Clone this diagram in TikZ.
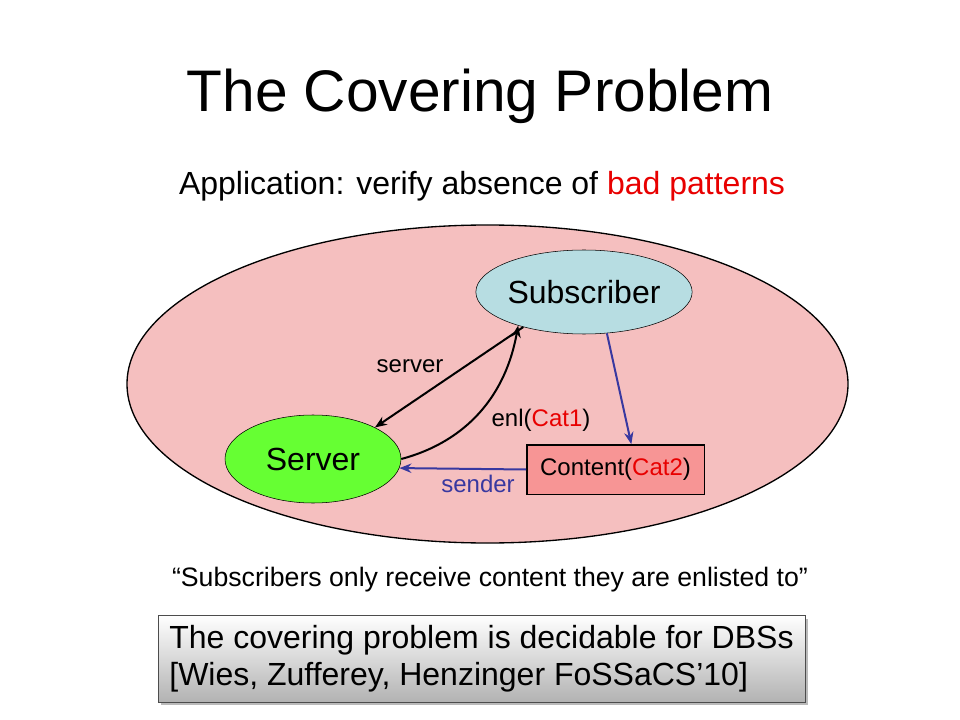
\documentclass[tikz,border=0pt]{standalone}
\usepackage{fontspec}
\setmainfont{Liberation Sans}
\usetikzlibrary{shapes.geometric,arrows.meta,shadows}
\definecolor{regionpink}{HTML}{F5BFBF}
\definecolor{subblue}{HTML}{B7DDE2}
\definecolor{srvgreen}{HTML}{66FF33}
\definecolor{boxpink}{HTML}{F79595}
\definecolor{badred}{HTML}{E80000}
\definecolor{msgblue}{HTML}{3838A0}
\begin{document}
\begin{tikzpicture}[x=0.75pt,y=-0.75pt,
	proc/.style={ellipse,draw,inner sep=0pt,font=\fontsize{24}{28}\selectfont},
	lbl/.style={anchor=base,font=\fontsize{18}{21}\selectfont},
	blk/.style={-{Stealth[length=9pt,width=7pt]},line width=1.5pt},
	blu/.style={blk,draw=msgblue}]
	\useasboundingbox (0,0) rectangle (960,720);
	
	\node[anchor=base,font=\fontsize{44}{53}\selectfont] (title) at (480,112) {The Covering Problem};
	\node[anchor=base,font=\fontsize{24}{28}\selectfont] (app) at (482,195) {Application: verify absence of \textcolor{badred}{bad patterns}};
	
	% the system
	\draw[fill=regionpink,line width=1pt] (487.5,384) ellipse [x radius=360.5,y radius=159];
	\node[proc,fill=subblue,minimum width=132pt,minimum height=63pt] (sub) at (584,292) {Subscriber};
	\node[proc,fill=srvgreen,minimum width=132pt,minimum height=66pt] (srv) at (313,459) {Server};
	\node[draw,line width=1pt,fill=boxpink,minimum width=133pt,minimum height=37pt,inner sep=0pt,
		font=\fontsize{18}{21}\selectfont] (cnt) at (615.5,469.5) {Content(\textcolor{badred}{Cat2})};
	
	\draw[blk] (sub.210) -- (srv.27);
	\draw[blk] (srv.east) to[out=15,in=-100] (sub.207);
	\draw[blu] (sub.-61) -- (cnt.58);
	\draw[blu] (cnt.west) -- (srv.-6);
	
	\node[lbl] (lsrv) at (410,372) {server};
	\node[lbl] (lenl) at (541,426) {enl(\textcolor{badred}{Cat1})};
	\node[lbl,text=msgblue] (lsnd) at (478,492) {sender};
	
	\node[anchor=base,font=\fontsize{20}{24}\selectfont] (quote) at (490,586) {``Subscribers only receive content they are enlisted to''};
	
	\node[draw=black!70,top color=white,bottom color=black!30,
		drop shadow={shadow xshift=2.5pt,shadow yshift=-2.5pt,fill=black!45,opacity=.6},
		minimum width=485pt,minimum height=65pt,inner xsep=8.5pt,inner ysep=3pt,
		align=left,font=\fontsize{24}{27.75}\selectfont] (res) at (481.5,658.5)
		{The covering problem is decidable for DBSs\\{}[Wies, Zufferey, Henzinger FoSSaCS'10]};
\end{tikzpicture}
\end{document}
